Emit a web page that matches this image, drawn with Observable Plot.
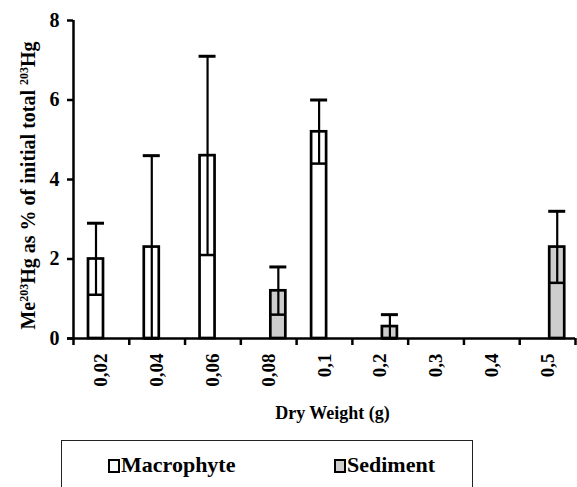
<!DOCTYPE html>
<html>
<head>
<meta charset="utf-8">
<script src="https://cdn.jsdelivr.net/npm/d3@7"></script>
<script src="https://cdn.jsdelivr.net/npm/@observablehq/plot@0.6"></script>
<style>
  body { margin: 0; background: #fff; font-family: "Liberation Serif", "DejaVu Serif", serif; }
  #wrap { position: relative; width: 577px; height: 487px; overflow: hidden; }
  #wrap svg text { font-family: "Liberation Serif", "DejaVu Serif", serif; font-weight: bold; }
  #legend { position: absolute; left: 61px; top: 440px; width: 412px; height: 70px; border: 1px solid #222; box-sizing: border-box; }
  .item { position: absolute; top: 13px; font-weight: bold; font-size: 22px; line-height: 22px; white-space: nowrap; color: #000; }
  .sw { display: inline-block; width: 8px; height: 10px; border: 2px solid #000; margin-right: 1px; vertical-align: -1px; }
</style>
</head>
<body>
<div id="wrap"></div>
<script>
const categories = ["0,02", "0,04", "0,06", "0,08", "0,1", "0,2", "0,3", "0,4", "0,5"];
const macrophyteMean = [2.0, 2.3, 4.6, null, 5.2, null, null, null, null];
const macrophyteErr  = [0.9, 2.3, 2.5, null, 0.8, null, null, null, null];
const sedimentMean   = [null, null, null, 1.2, null, 0.3, null, null, 2.3];
const sedimentErr    = [null, null, null, 0.6, null, 0.3, null, null, 0.9];
const seriesNames = ["Macrophyte", "Sediment"];
const yTicks = [0, 2, 4, 6, 8];
const xTitle = "Dry Weight (g)";
const yTitle = "Me203Hg as % of initial total 203Hg";

function rowsOf(name, means, errs) {
  return categories.map((c, i) => ({cat: c, type: name, mean: means[i], err: errs[i]}))
    .filter(d => d.mean != null)
    .map(d => ({...d, lo: Math.max(0, d.mean - d.err), hi: d.mean + d.err}));
}
const macRows = rowsOf(seriesNames[0], macrophyteMean, macrophyteErr);
const sedRows = rowsOf(seriesNames[1], sedimentMean, sedimentErr);

const W = 577, H = 437, ML = 73, MR = 2, MT = 20, MB = 99;
const step = (W - ML - MR) / categories.length;

function seriesMarks(rows, fill, left) {
  const right = step - left - 15;
  const center = left + 7.5 - step / 2;
  return [
    Plot.barY(rows, {x: "cat", y: "mean", fill, stroke: "#000", strokeWidth: 2.7, insetLeft: left, insetRight: right}),
    Plot.ruleX(rows, {x: "cat", y1: "lo", y2: "hi", dx: center, stroke: "#000", strokeWidth: 2.2}),
    Plot.tickY(rows, {x: "cat", y: "hi", insetLeft: left - 1, insetRight: right - 1, stroke: "#000", strokeWidth: 3}),
    Plot.tickY(rows, {x: "cat", y: "lo", insetLeft: left, insetRight: right, stroke: "#000", strokeWidth: 2.5})
  ];
}

const chart = Plot.plot({
  width: W, height: H,
  marginLeft: ML, marginRight: MR, marginTop: MT, marginBottom: MB,
  style: {fontFamily: "'Liberation Serif', 'DejaVu Serif', serif", fontWeight: "bold", background: "#fff", color: "#000", overflow: "visible"},
  x: {type: "band", domain: categories, padding: 0, round: false},
  y: {domain: [0, 8]},
  marks: [
    ...seriesMarks(macRows, "#fff", 15),
    ...seriesMarks(sedRows, "#cdcdcd", 30),
    Plot.ruleY([0], {insetLeft: -6, stroke: "#000", strokeWidth: 2.5}),
    Plot.ruleX([categories[0]], {x: d => d, dx: -step / 2, stroke: "#000", strokeWidth: 2.5}),
    Plot.axisY({ticks: yTicks, tickSize: 6, tickFormat: () => "", strokeWidth: 2.5, label: null}),
    Plot.text(yTicks, {y: d => d, text: d => String(d), frameAnchor: "left", textAnchor: "end", lineAnchor: "middle", dx: -14, fontSize: 20}),
    Plot.axisX({tickSize: 0, tickRotate: -90, tickPadding: 15, fontSize: 19, label: null}),
    Plot.axisX({tickSize: 7, dx: -step / 2, tickFormat: () => "", strokeWidth: 2.5, label: null}),
    Plot.axisX({ticks: [categories[categories.length - 1]], tickSize: 7, dx: step / 2, tickFormat: () => "", strokeWidth: 2.5, label: null}),
    Plot.text([xTitle], {text: d => d, frameAnchor: "bottom", lineAnchor: "bottom", dx: 8, dy: 80, fontSize: 18}),
    Plot.text([yTitle], {text: d => d, frameAnchor: "left", rotate: -90, textAnchor: "middle", lineAnchor: "middle", dx: -45, dy: 6, fontSize: 20})
  ]
});

// superscript mass numbers in the y title
chart.querySelectorAll("text").forEach(t => {
  if (t.textContent === yTitle) {
    const parts = yTitle.split("203");
    const ns = "http://www.w3.org/2000/svg";
    while (t.firstChild) t.removeChild(t.firstChild);
    parts.forEach((p, i) => {
      if (i > 0) {
        const s = document.createElementNS(ns, "tspan");
        s.setAttribute("baseline-shift", "super");
        s.setAttribute("font-size", "60%");
        s.textContent = "203";
        t.appendChild(s);
      }
      const n = document.createElementNS(ns, "tspan");
      n.textContent = p;
      t.appendChild(n);
    });
  }
});

const wrap = document.getElementById("wrap");
wrap.appendChild(chart);

const legend = document.createElement("div");
legend.id = "legend";
const fills = ["#fff", "#cdcdcd"];
const lefts = [46, 272];
seriesNames.forEach((name, i) => {
  const it = document.createElement("div");
  it.className = "item";
  it.style.left = lefts[i] + "px";
  const sw = document.createElement("span");
  sw.className = "sw";
  sw.style.background = fills[i];
  it.appendChild(sw);
  it.appendChild(document.createTextNode(name));
  legend.appendChild(it);
});
wrap.appendChild(legend);
</script>
</body>
</html>
